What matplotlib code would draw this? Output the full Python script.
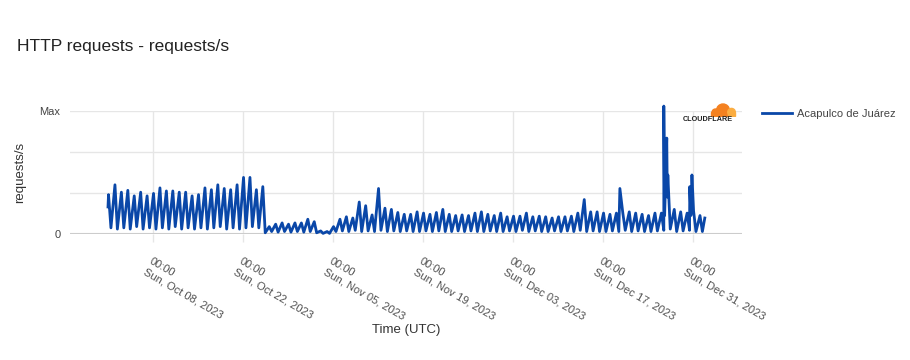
import numpy as np, pandas as pd
import matplotlib
matplotlib.use('Agg')
import matplotlib.pyplot as plt
import matplotlib.dates as mdates
from matplotlib.patches import Circle, Rectangle

plt.rcParams['font.family'] = ['Liberation Sans', 'DejaVu Sans']

SERIES = 'Acapulco de Juárez'
START = '2023-10-01'

# daily evening peak (~02:00 UTC) and overnight low (~11:00 UTC), as share of max
peaks = [
    0.32, 0.40, 0.34, 0.355, 0.31, 0.34, 0.31, 0.33, 0.375, 0.35,      # Oct 1-10
    0.35, 0.34, 0.34, 0.31, 0.32, 0.375, 0.36, 0.40, 0.37, 0.36,       # Oct 11-20
    0.40, 0.46, 0.46, 0.36, 0.385, 0.06, 0.08, 0.09, 0.08, 0.09, 0.09,  # Oct 21-31
    0.12, 0.10, 0.025, 0.02, 0.06, 0.12, 0.14, 0.13, 0.26, 0.23,       # Nov 1-10
    0.155, 0.37, 0.21, 0.20, 0.175, 0.16, 0.16, 0.18, 0.17, 0.16,      # Nov 11-20
    0.175, 0.20, 0.16, 0.15, 0.155, 0.15, 0.17, 0.18, 0.16, 0.15,      # Nov 21-30
    0.17, 0.14, 0.145, 0.145, 0.17, 0.14, 0.145, 0.14, 0.13, 0.14,     # Dec 1-10
    0.14, 0.145, 0.17, 0.28, 0.18, 0.18, 0.17, 0.16, 0.17, 0.17,       # Dec 11-20
    0.18, 0.17, 0.16, 0.15, 0.17, 0.17, 0.48, 0.20, 0.18, 0.17, 0.19,  # Dec 21-31
    0.15,                                                              # Jan 1
]
troughs = [
    0.05, 0.04, 0.05, 0.04, 0.06, 0.04, 0.05, 0.04, 0.05, 0.04,
    0.06, 0.04, 0.05, 0.04, 0.05, 0.04, 0.05, 0.06, 0.04, 0.05,
    0.04, 0.05, 0.06, 0.05, 0.01, 0.02, 0.015, 0.02, 0.015, 0.02, 0.015,
    0.02, 0.01, 0.005, 0.005, 0.02, 0.025, 0.02, 0.03, 0.02, 0.025,
    0.02, 0.03, 0.02, 0.025, 0.02, 0.025, 0.02, 0.02, 0.025, 0.02,
    0.025, 0.02, 0.02, 0.025, 0.02, 0.025, 0.02, 0.02, 0.025, 0.02,
    0.02, 0.025, 0.02, 0.03, 0.02, 0.025, 0.02, 0.02, 0.025, 0.02,
    0.025, 0.02, 0.03, 0.02, 0.025, 0.02, 0.02, 0.025, 0.02, 0.03,
    0.02, 0.025, 0.02, 0.02, 0.025, 0.03, 0.04, 0.02, 0.025, 0.03, 0.02,
    0.02,
]
first_value = 0.22
last_time = '2024-01-01 20:00'
last_value = 0.13

# short bursts on top of the daily cycle
spike_times = ['2023-12-19 15:00', '2023-12-26 11:00', '2023-12-26 14:00',
               '2023-12-26 22:00', '2023-12-27 00:00', '2023-12-30 12:00',
               '2023-12-30 16:00', '2023-12-30 20:00']
spike_values = [0.37, 1.04, 0.15, 0.78, 0.30, 0.385, 0.15, 0.48]

tick_dates = pd.date_range('2023-10-08', '2023-12-31', freq='14D')
y_ticks = [0, 1 / 3, 2 / 3, 1]
y_labels = ['0', '', '', 'Max']

# assemble the time series
days = pd.date_range(START, periods=len(peaks), freq='D')
df = pd.concat([
    pd.DataFrame({'t': [pd.Timestamp(START)], 'v': [first_value]}),
    pd.DataFrame({'t': days + pd.Timedelta(hours=2), 'v': peaks}),
    pd.DataFrame({'t': days + pd.Timedelta(hours=11), 'v': troughs}),
    pd.DataFrame({'t': pd.to_datetime(spike_times), 'v': spike_values}),
    pd.DataFrame({'t': [pd.Timestamp(last_time)], 'v': [last_value]}),
]).sort_values('t')

W, H = 910, 360
fig = plt.figure(figsize=(W / 100, H / 100), dpi=100)
ax = fig.add_axes([70 / W, 1 - 234 / H, 672 / W, 123 / H])

grid_c = '#e6e6e6'
ax.plot(df['t'], df['v'], color='#0a47a8', lw=2.0, clip_on=False, zorder=3)
ax.axhline(0, color='#cccccc', lw=1.5, zorder=2)

ref = pd.Timestamp('2023-10-08')
ax.set_xlim(ref - pd.Timedelta(days=12.91), ref + pd.Timedelta(days=91.62))
ax.set_ylim(0, 1)

ax.set_xticks(tick_dates)
ax.set_xticklabels([d.strftime('00:00\n%a, %b %d, %Y') for d in tick_dates],
                   rotation=-30, ha='left', va='top', rotation_mode='anchor',
                   fontsize=8, color='#505050', linespacing=1.3)
ax.set_yticks(y_ticks)
ax.set_yticklabels(y_labels, fontsize=8, color='#444444')
ax.tick_params(axis='x', length=6, color=grid_c, width=1, pad=10)
ax.tick_params(axis='y', length=0, pad=7)
ax.grid(True, color=grid_c, lw=1)
ax.set_axisbelow(True)
for s in ax.spines.values():
    s.set_visible(False)

fig.text(17 / W, 1 - 47 / H, 'HTTP requests - requests/s', fontsize=12.5,
         color='#222222', va='center', ha='left')
fig.text(20 / W, 1 - 172 / H, 'requests/s', fontsize=9.5, color='#333333',
         rotation=90, va='center', ha='center')
fig.text(406 / W, 1 - 330 / H, 'Time (UTC)', fontsize=9.5, color='#333333',
         va='center', ha='center')

fig.legend(ax.lines[:1], [SERIES], loc='center left',
           bbox_to_anchor=(762 / W, 1 - 114 / H), frameon=False, fontsize=8,
           handlelength=2.7, handletextpad=0.45, borderpad=0, borderaxespad=0,
           labelcolor='#444444')

# cloudflare mark
lax = fig.add_axes([706 / W, 1 - 117 / H, 31 / W, 16 / H])
lax.set_xlim(0, 31)
lax.set_ylim(0, 16)
lax.axis('off')
orange, light = '#f48120', '#fbad41'
for p in [Circle((17, 6.5), 6.5, color=orange), Circle((9.5, 4.5), 3.5, color=orange),
          Rectangle((5, 1), 18, 4, color=orange),
          Circle((25.5, 4.8), 3.8, color=light), Rectangle((22, 1), 7, 3.5, color=light)]:
    lax.add_patch(p)
fig.text(708 / W, 1 - 119.5 / H, 'CLOUDFLARE', fontsize=5.2, fontweight='bold',
         color='#222222', ha='center', va='center')

fig.savefig('out.png', dpi=100)
